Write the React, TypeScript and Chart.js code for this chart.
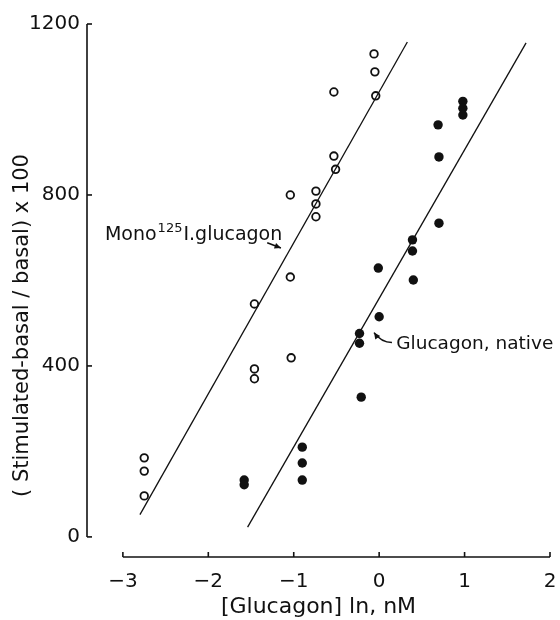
import React, { useEffect, useRef } from "react";
import { Chart, registerables } from "chart.js";

Chart.register(...registerables);

// ---- axes ----
const X_TICKS = [-3, -2, -1, 0, 1, 2];
const Y_TICKS = [0, 400, 800, 1200];
const X_MIN = -3.42;
const X_MAX = 2;
const Y_MIN = -47;
const Y_MAX = 1200;

// ---- Mono 125I-glucagon (open circles) ----
const MONO_X = [-2.75, -2.75, -2.75, -1.46, -1.46, -1.46, -1.04, -1.04, -1.03, -0.74, -0.74, -0.74, -0.53, -0.53, -0.51, -0.06, -0.05, -0.04];
const MONO_Y = [185, 154, 96, 545, 393, 370, 800, 608, 419, 809, 779, 749, 1041, 891, 860, 1130, 1088, 1032];

// ---- Glucagon, native (filled circles) ----
const NATIVE_X = [-1.58, -1.58, -0.9, -0.9, -0.9, -0.23, -0.23, -0.21, -0.01, 0.0, 0.39, 0.39, 0.4, 0.69, 0.7, 0.7, 0.98, 0.98, 0.98];
const NATIVE_Y = [133, 122, 210, 173, 133, 476, 453, 327, 629, 515, 695, 669, 601, 964, 889, 734, 1019, 1003, 987];

// ---- fitted lines ----
const MONO_FIT_X = [-2.8, 0.33];
const MONO_FIT_Y = [52, 1158];
const NATIVE_FIT_X = [-1.54, 1.72];
const NATIVE_FIT_Y = [23, 1156];

// ---- labels ----
const X_TITLE = "[Glucagon] ln, nM";
const Y_TITLE = "( Stimulated-basal / basal) x 100";
const MONO_LABEL = ["Mono", "125", "I.glucagon"];
const MONO_LABEL_AT = [-3.21, 695];
const MONO_ARROW = [[-1.31, 688], [-1.15, 676]];
const NATIVE_LABEL = "Glucagon, native";
const NATIVE_LABEL_AT = [0.2, 440];
const NATIVE_ARROW = [[0.15, 455], [-0.06, 478]];

const FONT = "'DejaVu Sans', sans-serif";
const INK = "#111";

const pts = (xs: number[], ys: number[]) => xs.map((x, i) => ({ x, y: ys[i] }));
const fmt = (v: number) => (v < 0 ? "\u2212" + Math.abs(v) : String(v));

const decorPlugin = {
  id: "decor",
  afterDraw(chart: any) {
    const { ctx, chartArea } = chart;
    const x = chart.scales.x;
    const y = chart.scales.y;
    ctx.save();
    ctx.strokeStyle = INK;
    ctx.fillStyle = INK;
    ctx.lineWidth = 1.6;
    ctx.lineCap = "butt";

    // y axis line + inward ticks
    const ax = chartArea.left;
    ctx.beginPath();
    ctx.moveTo(ax, y.getPixelForValue(Y_TICKS[0]));
    ctx.lineTo(ax, y.getPixelForValue(Y_TICKS[Y_TICKS.length - 1]));
    ctx.stroke();
    Y_TICKS.forEach((v) => {
      const py = y.getPixelForValue(v);
      ctx.beginPath();
      ctx.moveTo(ax, py);
      ctx.lineTo(ax + 5, py);
      ctx.stroke();
    });

    // x axis line + inward ticks
    const ay = chartArea.bottom;
    ctx.beginPath();
    ctx.moveTo(x.getPixelForValue(X_TICKS[0]), ay);
    ctx.lineTo(x.getPixelForValue(X_TICKS[X_TICKS.length - 1]), ay);
    ctx.stroke();
    X_TICKS.forEach((v) => {
      const px = x.getPixelForValue(v);
      ctx.beginPath();
      ctx.moveTo(px, ay);
      ctx.lineTo(px, ay - 5);
      ctx.stroke();
    });

    // y title (rotated)
    ctx.save();
    ctx.translate(23, (chartArea.top + chartArea.bottom) / 2 + 35);
    ctx.rotate(-Math.PI / 2);
    ctx.font = `21px ${FONT}`;
    ctx.textAlign = "center";
    ctx.textBaseline = "middle";
    ctx.fillText(Y_TITLE, 0, 0);
    ctx.restore();

    // Mono label with superscript
    ctx.textAlign = "left";
    ctx.textBaseline = "alphabetic";
    let lx = x.getPixelForValue(MONO_LABEL_AT[0]);
    const ly = y.getPixelForValue(MONO_LABEL_AT[1]);
    ctx.font = `19px ${FONT}`;
    ctx.fillText(MONO_LABEL[0], lx, ly);
    lx += ctx.measureText(MONO_LABEL[0]).width + 1;
    ctx.font = `13px ${FONT}`;
    ctx.fillText(MONO_LABEL[1], lx, ly - 8);
    lx += ctx.measureText(MONO_LABEL[1]).width + 1;
    ctx.font = `19px ${FONT}`;
    ctx.fillText(MONO_LABEL[2], lx, ly);

    // Mono arrow
    const a0x = x.getPixelForValue(MONO_ARROW[0][0]);
    const a0y = y.getPixelForValue(MONO_ARROW[0][1]);
    const a1x = x.getPixelForValue(MONO_ARROW[1][0]);
    const a1y = y.getPixelForValue(MONO_ARROW[1][1]);
    ctx.lineWidth = 1.6;
    ctx.beginPath();
    ctx.moveTo(a0x, a0y);
    ctx.lineTo(a1x, a1y);
    ctx.stroke();
    drawHead(ctx, a0x, a0y, a1x, a1y);

    // Native label
    ctx.font = `18.5px ${FONT}`;
    ctx.fillText(NATIVE_LABEL, x.getPixelForValue(NATIVE_LABEL_AT[0]), y.getPixelForValue(NATIVE_LABEL_AT[1]));

    // Native arrow (curved)
    const b0x = x.getPixelForValue(NATIVE_ARROW[0][0]);
    const b0y = y.getPixelForValue(NATIVE_ARROW[0][1]);
    const b1x = x.getPixelForValue(NATIVE_ARROW[1][0]);
    const b1y = y.getPixelForValue(NATIVE_ARROW[1][1]);
    const cx = b0x - (b0x - b1x) * 0.6;
    const cy = b0y;
    ctx.beginPath();
    ctx.moveTo(b0x, b0y);
    ctx.quadraticCurveTo(cx, cy, b1x, b1y);
    ctx.stroke();
    drawHead(ctx, cx, cy, b1x, b1y);

    ctx.restore();
  },
};

function drawHead(ctx: CanvasRenderingContext2D, fx: number, fy: number, tx: number, ty: number) {
  const ang = Math.atan2(ty - fy, tx - fx);
  const len = 7;
  const spread = 0.45;
  ctx.beginPath();
  ctx.moveTo(tx, ty);
  ctx.lineTo(tx - len * Math.cos(ang - spread), ty - len * Math.sin(ang - spread));
  ctx.lineTo(tx - len * Math.cos(ang + spread), ty - len * Math.sin(ang + spread));
  ctx.closePath();
  ctx.fill();
}

export default function App() {
  const ref = useRef<HTMLCanvasElement | null>(null);

  useEffect(() => {
    if (!ref.current) return;
    const chart = new Chart(ref.current, {
      type: "scatter",
      data: {
        datasets: [
          {
            label: "Mono fit",
            data: pts(MONO_FIT_X, MONO_FIT_Y),
            showLine: true,
            borderColor: INK,
            borderWidth: 1.3,
            pointRadius: 0,
          },
          {
            label: "Native fit",
            data: pts(NATIVE_FIT_X, NATIVE_FIT_Y),
            showLine: true,
            borderColor: INK,
            borderWidth: 1.3,
            pointRadius: 0,
          },
          {
            label: "Mono 125I.glucagon",
            data: pts(MONO_X, MONO_Y),
            pointStyle: "circle",
            pointRadius: 3.8,
            borderWidth: 1.8,
            borderColor: INK,
            backgroundColor: "#fff",
          },
          {
            label: "Glucagon, native",
            data: pts(NATIVE_X, NATIVE_Y),
            pointStyle: "circle",
            pointRadius: 4.7,
            borderWidth: 0,
            borderColor: INK,
            backgroundColor: INK,
          },
        ],
      } as any,
      options: {
        animation: false,
        responsive: true,
        maintainAspectRatio: false,
        layout: { padding: { top: 24, right: 10, left: 0, bottom: 0 } },
        plugins: { legend: { display: false }, tooltip: { enabled: false } },
        scales: {
          x: {
            type: "linear",
            min: X_MIN,
            max: X_MAX,
            grid: { display: false, drawTicks: false },
            border: { display: false },
            afterBuildTicks: (s: any) => {
              s.ticks = X_TICKS.map((value) => ({ value }));
            },
            afterFit: (s: any) => {
              s.height = 63;
              s.paddingRight = 0;
              s.paddingLeft = 0;
            },
            ticks: {
              color: INK,
              font: { family: FONT, size: 20 },
              padding: 13,
              maxRotation: 0,
              autoSkip: false,
              callback: (v: any) => fmt(Number(v)),
            },
            title: {
              display: true,
              text: X_TITLE,
              color: INK,
              font: { family: FONT, size: 22 },
              padding: { top: 0, bottom: 0 },
            },
          },
          y: {
            type: "linear",
            min: Y_MIN,
            max: Y_MAX,
            grid: { display: false, drawTicks: false },
            border: { display: false },
            afterBuildTicks: (s: any) => {
              s.ticks = Y_TICKS.map((value) => ({ value }));
            },
            afterFit: (s: any) => {
              s.width = 87;
            },
            ticks: {
              color: INK,
              font: { family: FONT, size: 20 },
              padding: 7,
              autoSkip: false,
              callback: (v: any) => fmt(Number(v)),
            },
          },
        },
      } as any,
      plugins: [decorPlugin],
    });
    return () => chart.destroy();
  }, []);

  return (
    <div style={{ position: "absolute", left: 0, top: 0, width: 560, height: 620, background: "#fff" }}>
      <canvas ref={ref} />
    </div>
  );
}
